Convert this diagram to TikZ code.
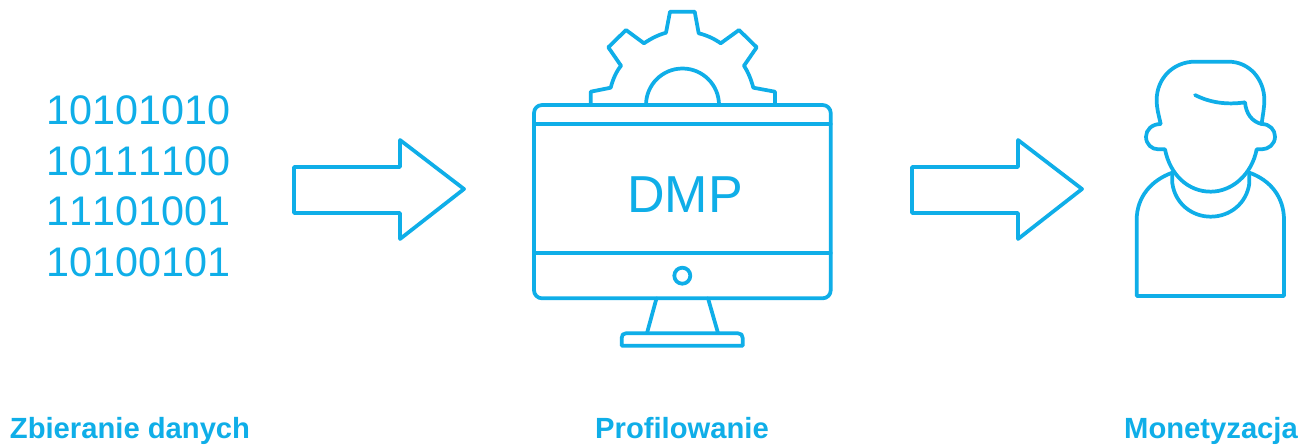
\documentclass[tikz,border=0pt]{standalone}
\usepackage{fontspec}
\setmainfont{Liberation Sans}
\newfontfamily\digitfont[Kerning=Off]{Liberation Sans}
\definecolor{dmpblue}{HTML}{0FAEE8}
\tikzset{
  line/.style={draw=dmpblue,line width=2.8pt,line join=round,line cap=round},
  digits/.style={anchor=base west,inner sep=0pt,text=dmpblue,font=\digitfont\fontsize{31}{38}\selectfont},
  caption/.style={anchor=base,inner sep=0pt,text=dmpblue,font=\fontsize{21.9}{26}\selectfont\bfseries},
}
\begin{document}
\begin{tikzpicture}[x=0.75pt,y=-0.75pt]
\useasboundingbox[fill=white] (0,0) rectangle (1305,444);
% digits
\node[digits] (d1) at (46,124) {10101010};
\node[digits] (d2) at (46,175) {10111100};
\node[digits] (d3) at (46,225) {11101001};
\node[digits] (d4) at (46,276) {10100101};
% arrows
\draw[line] (294,167) -- (400,167) -- (400,140) -- (464,189) -- (400,239) -- (400,213) -- (294,213) -- cycle;
\draw[line] (912,167) -- (1018,167) -- (1018,140) -- (1082,189) -- (1018,239) -- (1018,213) -- (912,213) -- cycle;
% gear
\draw[line] (590.7,105) -- (590.7,91.7) -- (610.7,87.7) .. controls (613,79) and (616,72) .. (621,65.7)
  -- (608.3,47.3) -- (626,30) -- (644,43.3) .. controls (651,38.5) and (658,35) .. (666,32.7)
  -- (670,11.7) -- (694.7,11.7) -- (698.7,33.3) .. controls (706,35) and (714,38.5) .. (720.7,43.3)
  -- (739,30) -- (756.7,47.3) -- (744,65.7) .. controls (748,72) and (751,79) .. (753.3,87.7)
  -- (775,91.7) -- (775,105);
\draw[line] (646,105) arc[start angle=180,end angle=360,radius=36.5];
% monitor
\draw[line,rounded corners=6pt] (534,105) rectangle (830.7,298.3);
\draw[line] (534,124) -- (830.7,124);
\draw[line] (534,253.3) -- (830.7,253.3);
\draw[line] (682.3,275.7) circle[radius=8];
\draw[line] (656.5,298.3) -- (647,333);
\draw[line] (708,298.3) -- (718,333);
\draw[line] (621.7,345.7) -- (621.7,338) .. controls (621.7,335) and (623,333.3) .. (626,333.3)
  -- (738,333.3) .. controls (741,333.3) and (742.7,335) .. (742.7,338) -- (742.7,345.7) -- cycle;
\node[anchor=base,inner sep=0pt,text=dmpblue,font=\fontsize{39}{44}\selectfont] (dmp) at (685,212) {DMP};
% person
\begin{scope}[shift={(1120,50)},scale=1/3]
\draw[line] (122,222) .. controls (115,190) and (110,175) .. (110,150)
  .. controls (110,85) and (160,35) .. (225,35) -- (325,35)
  .. controls (390,35) and (433,90) .. (433,150) .. controls (433,175) and (428,195) .. (425,222)
  .. controls (450,222) and (465,240) .. (465,260) .. controls (465,283) and (445,298) .. (425,298) -- (410,298)
  .. controls (395,375) and (335,425) .. (272,425) .. controls (205,425) and (150,375) .. (135,298)
  -- (115,298) .. controls (95,298) and (78,283) .. (78,260) .. controls (78,240) and (95,222) .. (122,222);
\draw[line] (157,372) -- (157,400) .. controls (165,460) and (215,500) .. (272,500) .. controls (330,500) and (380,460) .. (388,400) -- (388,368);
\draw[line] (157,368) .. controls (95,390) and (50,440) .. (50,510) -- (50,738) -- (492,738) -- (492,510) .. controls (492,440) and (450,390) .. (388,368);
\draw[line] (225,135) .. controls (270,158) and (320,165) .. (375,157) .. controls (378,190) and (395,215) .. (425,222);
\end{scope}
% captions
\node[caption] (c1) at (130,438) {Zbieranie danych};
\node[caption] (c2) at (682,438) {Profilowanie};
\node[caption] (c3) at (1211,438) {Monetyzacja};
\end{tikzpicture}
\end{document}
